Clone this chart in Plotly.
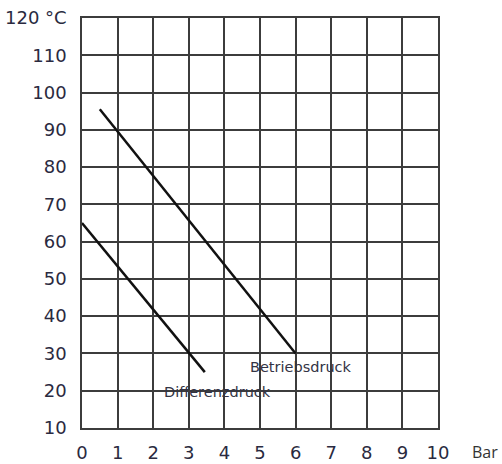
import plotly.graph_objects as go

# Data
betrieb_x = [0.5, 6.0]
betrieb_y = [95.5, 30.0]
diff_x = [0.0, 3.45]
diff_y = [65.0, 25.0]

x_ticks = list(range(0, 11))
y_ticks = list(range(10, 121, 10))
y_ticktext = [str(v) for v in y_ticks[:-1]] + ["120 °C"]

labels = [
    ("Betriebsdruck", 4.75, 26.4),
    ("Differenzdruck", 2.33, 19.7),
]

fig = go.Figure()
fig.add_trace(go.Scatter(x=betrieb_x, y=betrieb_y, mode="lines",
                         line=dict(color="#111111", width=2.5), showlegend=False))
fig.add_trace(go.Scatter(x=diff_x, y=diff_y, mode="lines",
                         line=dict(color="#111111", width=2.5), showlegend=False))

for text, x, y in labels:
    fig.add_annotation(x=x, y=y, text=text, showarrow=False, xanchor="left",
                       yanchor="middle", xshift=-3,
                       font=dict(family="DejaVu Sans", size=14.5, color="#333344"))

fig.add_annotation(x=1, xref="paper", y=10, yref="y", text="Bar", showarrow=False,
                   xanchor="left", yanchor="middle", xshift=32, yshift=-24,
                   font=dict(family="Open Sans", size=16, color="#333333"))

grid = "#3c3c3c"
tick_font = dict(family="DejaVu Sans", size=18, color="#2a2a40")
fig.update_xaxes(range=[0, 10], tickvals=x_ticks, showgrid=True, gridcolor=grid,
                 gridwidth=1.5, showline=True, linecolor=grid, linewidth=1.5,
                 mirror=True, zeroline=False, ticks="", ticklabelstandoff=8,
                 automargin=False, ticklabeloverflow="allow", tickfont=tick_font)
fig.update_yaxes(range=[10, 120], tickvals=y_ticks, ticktext=y_ticktext,
                 showgrid=True, gridcolor=grid, gridwidth=1.5, showline=True,
                 linecolor=grid, linewidth=1.5, mirror=True, zeroline=False,
                 ticks="", ticklabelstandoff=10, automargin=False,
                 ticklabeloverflow="allow", tickfont=tick_font)

fig.update_layout(width=502, height=464, margin=dict(l=82, r=64, t=18, b=36),
                  plot_bgcolor="white", paper_bgcolor="white")

fig.write_html("out.html", config={"displayModeBar": False},
               post_script="document.body.style.margin='0';document.body.style.overflow='hidden';")
